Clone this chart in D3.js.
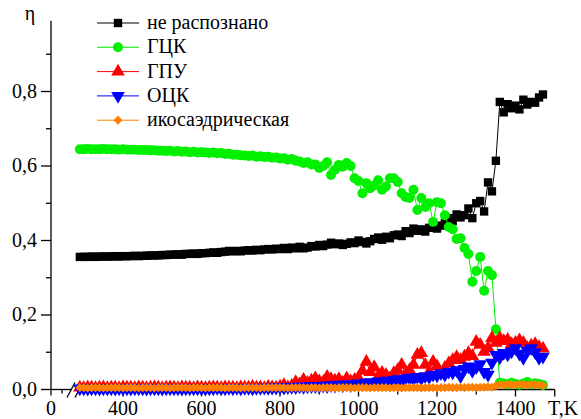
<!DOCTYPE html>
<html>
<head>
<meta charset="utf-8">
<script src="https://cdn.jsdelivr.net/npm/d3@7"></script>
</head>
<body style="margin:0">
<script>
// temperature, K
var temps = [
  290, 300, 310, 320, 330, 340, 350, 360, 370, 380,
  390, 400, 410, 420, 430, 440, 450, 460, 470, 480,
  490, 500, 510, 520, 530, 540, 550, 560, 570, 580,
  590, 600, 610, 620, 630, 640, 650, 660, 670, 680,
  690, 700, 710, 720, 730, 740, 750, 760, 770, 780,
  790, 800, 810, 820, 830, 840, 850, 860, 870, 880,
  890, 900, 910, 920, 930, 940, 950, 960, 970, 980,
  990, 1000, 1010, 1020, 1030, 1040, 1050, 1060, 1070, 1080,
  1090, 1100, 1110, 1120, 1130, 1140, 1150, 1160, 1170, 1180,
  1190, 1200, 1210, 1220, 1230, 1240, 1250, 1260, 1270, 1280,
  1290, 1300, 1310, 1320, 1330, 1340, 1350, 1360, 1370, 1380,
  1390, 1400, 1410, 1420, 1430, 1440, 1450, 1460, 1470
];

var unrecognized = [
  .356, .356, .356, .357, .356, .357, .357, .357, .357, .358,
  .357, .358, .358, .358, .359, .358, .359, .359, .360, .360,
  .360, .361, .361, .362, .362, .363, .362, .364, .364, .365,
  .364, .366, .366, .367, .368, .367, .369, .370, .372, .371,
  .372, .371, .373, .374, .373, .375, .374, .376, .377, .376,
  .378, .377, .380, .377, .381, .379, .383, .379, .381, .385,
  .384, .388, .385, .389, .394, .390, .392, .388, .391, .395,
  .393, .400, .396, .392, .398, .404, .408, .402, .410, .406,
  .414, .416, .412, .425, .420, .432, .426, .430, .424, .434,
  .438, .432, .440, .446, .460, .452, .470, .462, .468, .486,
  .460, .500, .506, .478, .556, .532, .614, .772, .744, .766,
  .755, .762, .752, .778, .765, .772, .770, .784, .792
];

var fcc = [
  .645, .645, .646, .645, .645, .645, .646, .645, .645, .645,
  .644, .645, .644, .644, .644, .643, .643, .643, .642, .642,
  .641, .641, .640, .641, .639, .640, .638, .639, .637, .638,
  .636, .637, .636, .635, .636, .634, .635, .632, .633, .630,
  .630, .629, .628, .627, .628, .625, .626, .624, .625, .622,
  .623, .620, .621, .617, .619, .614, .612, .608, .610, .604,
  .604, .595, .600, .610, .576, .590, .603, .598, .608, .600,
  .567, .560, .527, .554, .540, .548, .562, .536, .545, .567,
  .567, .557, .527, .517, .514, .536, .482, .514, .490, .500,
  .450, .503, .500, .468, .436, .430, .404, .406, .380, .364,
  .289, .318, .356, .265, .318, .307, .162, .018, .016, .014,
  .018, .015, .013, .016, .020, .014, .017, .015, .012
];

var hcp = [
  .005, .004, .006, .005, .004, .005, .006, .004, .005, .005,
  .004, .006, .005, .005, .004, .006, .005, .004, .005, .006,
  .005, .004, .005, .006, .005, .004, .006, .005, .005, .004,
  .006, .005, .004, .005, .006, .005, .004, .006, .005, .005,
  .004, .006, .005, .005, .007, .005, .006, .004, .007, .006,
  .005, .008, .012, .006, .010, .020, .014, .026, .018, .024,
  .030, .022, .020, .034, .028, .024, .028, .018, .030, .022,
  .026, .031, .050, .074, .047, .060, .034, .045, .039, .030,
  .044, .052, .066, .040, .052, .066, .093, .098, .066, .047,
  .074, .062, .040, .058, .070, .079, .087, .079, .088, .098,
  .090, .128, .120, .101, .112, .138, .125, .138, .130, .133,
  .122, .125, .132, .125, .111, .118, .122, .114, .110
];

var bcc = [
  .003, .003, .002, .003, .003, .002, .003, .003, .003, .002,
  .003, .003, .003, .002, .003, .003, .003, .002, .003, .003,
  .003, .002, .003, .003, .003, .003, .002, .003, .003, .003,
  .003, .003, .002, .003, .003, .004, .003, .003, .004, .003,
  .004, .003, .004, .004, .003, .004, .004, .005, .004, .005,
  .005, .006, .005, .006, .007, .006, .008, .007, .008, .009,
  .009, .008, .010, .009, .012, .010, .013, .011, .014, .012,
  .015, .016, .014, .018, .020, .017, .022, .020, .024, .021,
  .026, .028, .024, .030, .032, .028, .034, .030, .036, .034,
  .040, .038, .044, .040, .048, .046, .052, .036, .055, .062,
  .050, .060, .068, .047, .040, .072, .093, .086, .098, .094,
  .102, .111, .096, .085, .104, .111, .100, .085, .088
];

var icosa = [
  .005, .005, .004, .005, .005, .005, .004, .005, .005, .005,
  .005, .004, .005, .005, .005, .004, .005, .005, .005, .004,
  .005, .005, .005, .004, .005, .005, .005, .005, .004, .005,
  .005, .005, .004, .005, .005, .005, .005, .004, .005, .005,
  .005, .004, .005, .005, .005, .005, .004, .005, .005, .005,
  .005, .005, .005, .004, .005, .005, .005, .005, .004, .005,
  .005, .004, .005, .005, .005, .004, .005, .005, .005, .005,
  .004, .005, .005, .005, .004, .005, .005, .005, .005, .004,
  .005, .005, .004, .005, .005, .005, .005, .004, .005, .005,
  .005, .004, .005, .005, .006, .005, .005, .006, .005, .006,
  .006, .005, .006, .006, .007, .006, .010, .013, .012, .014,
  .013, .012, .014, .013, .012, .014, .013, .012, .011
];

var seriesNames = ['не распознано', 'ГЦК', 'ГПУ', 'ОЦК', 'икосаэдрическая'];
var seriesColors = ['#000000', '#00f000', '#ff0000', '#0000ff', '#ff8000'];
var xMajorTicks = [400, 600, 800, 1000, 1200, 1400, 1500];
var xMinorTicks = [500, 700, 900, 1100, 1300];
var yMajorTicks = [0, 0.2, 0.4, 0.6, 0.8];
var yMinorTicks = [0.1, 0.3, 0.5, 0.7, 0.9];

var width = 581, height = 419;
var svg = d3.select('body').append('svg')
  .attr('width', width).attr('height', height)
  .attr('font-family', 'Liberation Serif');

var x = d3.scaleLinear().domain([300, 1500]).range([83.75, 554.75]);
var y = d3.scaleLinear().domain([0, 0.8]).range([389.5, 91.5]);
var axisX = 51;

var series = [unrecognized, fcc, hcp, bcc, icosa];
var shapes = [
  {type: d3.symbolSquare, size: 70, rot: 0},
  {type: d3.symbolCircle, size: 78, rot: 0},
  {type: d3.symbolTriangle, size: 80, rot: 0},
  {type: d3.symbolTriangle, size: 80, rot: 180},
  {type: d3.symbolSquare, size: 42, rot: 45}
];

function label(xp, yp, txt, anchor) {
  var t = svg.append('text').attr('x', xp).attr('y', yp)
    .attr('font-family', 'Liberation Serif')
    .attr('font-size', 20)
    .style('font-family', "'Liberation Serif'");
  if (anchor) t.attr('text-anchor', anchor);
  return t.text(txt);
}

// axes
var ax = svg.append('g').attr('stroke', '#000').attr('stroke-width', 1.3);
ax.append('line').attr('x1', axisX).attr('x2', axisX).attr('y1', y(0.99)).attr('y2', y(0) + 0.5);
yMajorTicks.forEach(function (t) {
  ax.append('line').attr('x1', axisX - 10).attr('x2', axisX).attr('y1', y(t)).attr('y2', y(t));
});
yMinorTicks.forEach(function (t) {
  ax.append('line').attr('x1', axisX - 5).attr('x2', axisX).attr('y1', y(t)).attr('y2', y(t));
});
// broken x axis
ax.append('line').attr('x1', axisX).attr('x2', 72).attr('y1', y(0)).attr('y2', y(0));
ax.append('line').attr('x1', 80).attr('x2', x(1500)).attr('y1', y(0)).attr('y2', y(0));
ax.append('line').attr('x1', axisX).attr('x2', axisX).attr('y1', y(0)).attr('y2', y(0) + 6);
ax.append('line').attr('x1', 62).attr('x2', 62).attr('y1', y(0)).attr('y2', y(0) + 4);
[67, 75].forEach(function (bx) {
  ax.append('line').attr('x1', bx).attr('x2', bx + 8).attr('y1', y(0) + 8).attr('y2', y(0) - 7);
});
xMajorTicks.forEach(function (t) {
  ax.append('line').attr('x1', x(t)).attr('x2', x(t)).attr('y1', y(0)).attr('y2', y(0) + 7);
});
xMinorTicks.forEach(function (t) {
  ax.append('line').attr('x1', x(t)).attr('x2', x(t)).attr('y1', y(0)).attr('y2', y(0) + 5);
});

var fmt = function (v) { return d3.format('.1f')(v).replace('.', ','); };
yMajorTicks.forEach(function (t) { label(37, y(t) + 6, fmt(t), 'end'); });
xMajorTicks.slice(0, 6).forEach(function (t) { label(x(t), 415, String(t), 'middle'); });
label(axisX, 415, '0', 'middle');
label(548, 415, 'T,K');
label(30, 20, 'η', 'middle');

// data
var line = d3.line().x(function (d) { return x(d[0]); }).y(function (d) { return y(d[1]); });
series.forEach(function (vals, i) {
  var pts = d3.zip(temps, vals);
  var g = svg.append('g');
  g.append('path').datum(pts).attr('d', line)
    .attr('fill', 'none').attr('stroke', seriesColors[i]).attr('stroke-width', 1);
  var sym = d3.symbol().type(shapes[i].type).size(shapes[i].size);
  g.selectAll('path.m').data(pts).enter().append('path')
    .attr('class', 'm')
    .attr('d', sym)
    .attr('transform', function (d) {
      return 'translate(' + x(d[0]) + ',' + y(d[1]) + ') rotate(' + shapes[i].rot + ')';
    })
    .attr('fill', seriesColors[i]);
});

// legend
seriesNames.forEach(function (name, i) {
  var ly = 23 + i * 24.3;
  svg.append('line').attr('x1', 97).attr('x2', 139).attr('y1', ly).attr('y2', ly)
    .attr('stroke', seriesColors[i]).attr('stroke-width', 1);
  svg.append('path')
    .attr('d', d3.symbol().type(shapes[i].type).size(shapes[i].size)())
    .attr('transform', 'translate(118,' + ly + ') rotate(' + shapes[i].rot + ')')
    .attr('fill', seriesColors[i]);
  label(147, ly + 6, name);
});

// re-apply the font once fonts are ready, in case the first layout used a fallback
if (document.fonts && document.fonts.ready) {
  document.fonts.ready.then(function () {
    svg.selectAll('text').style('font-family', "'Liberation Serif'");
  });
}
</script>
</body>
</html>
